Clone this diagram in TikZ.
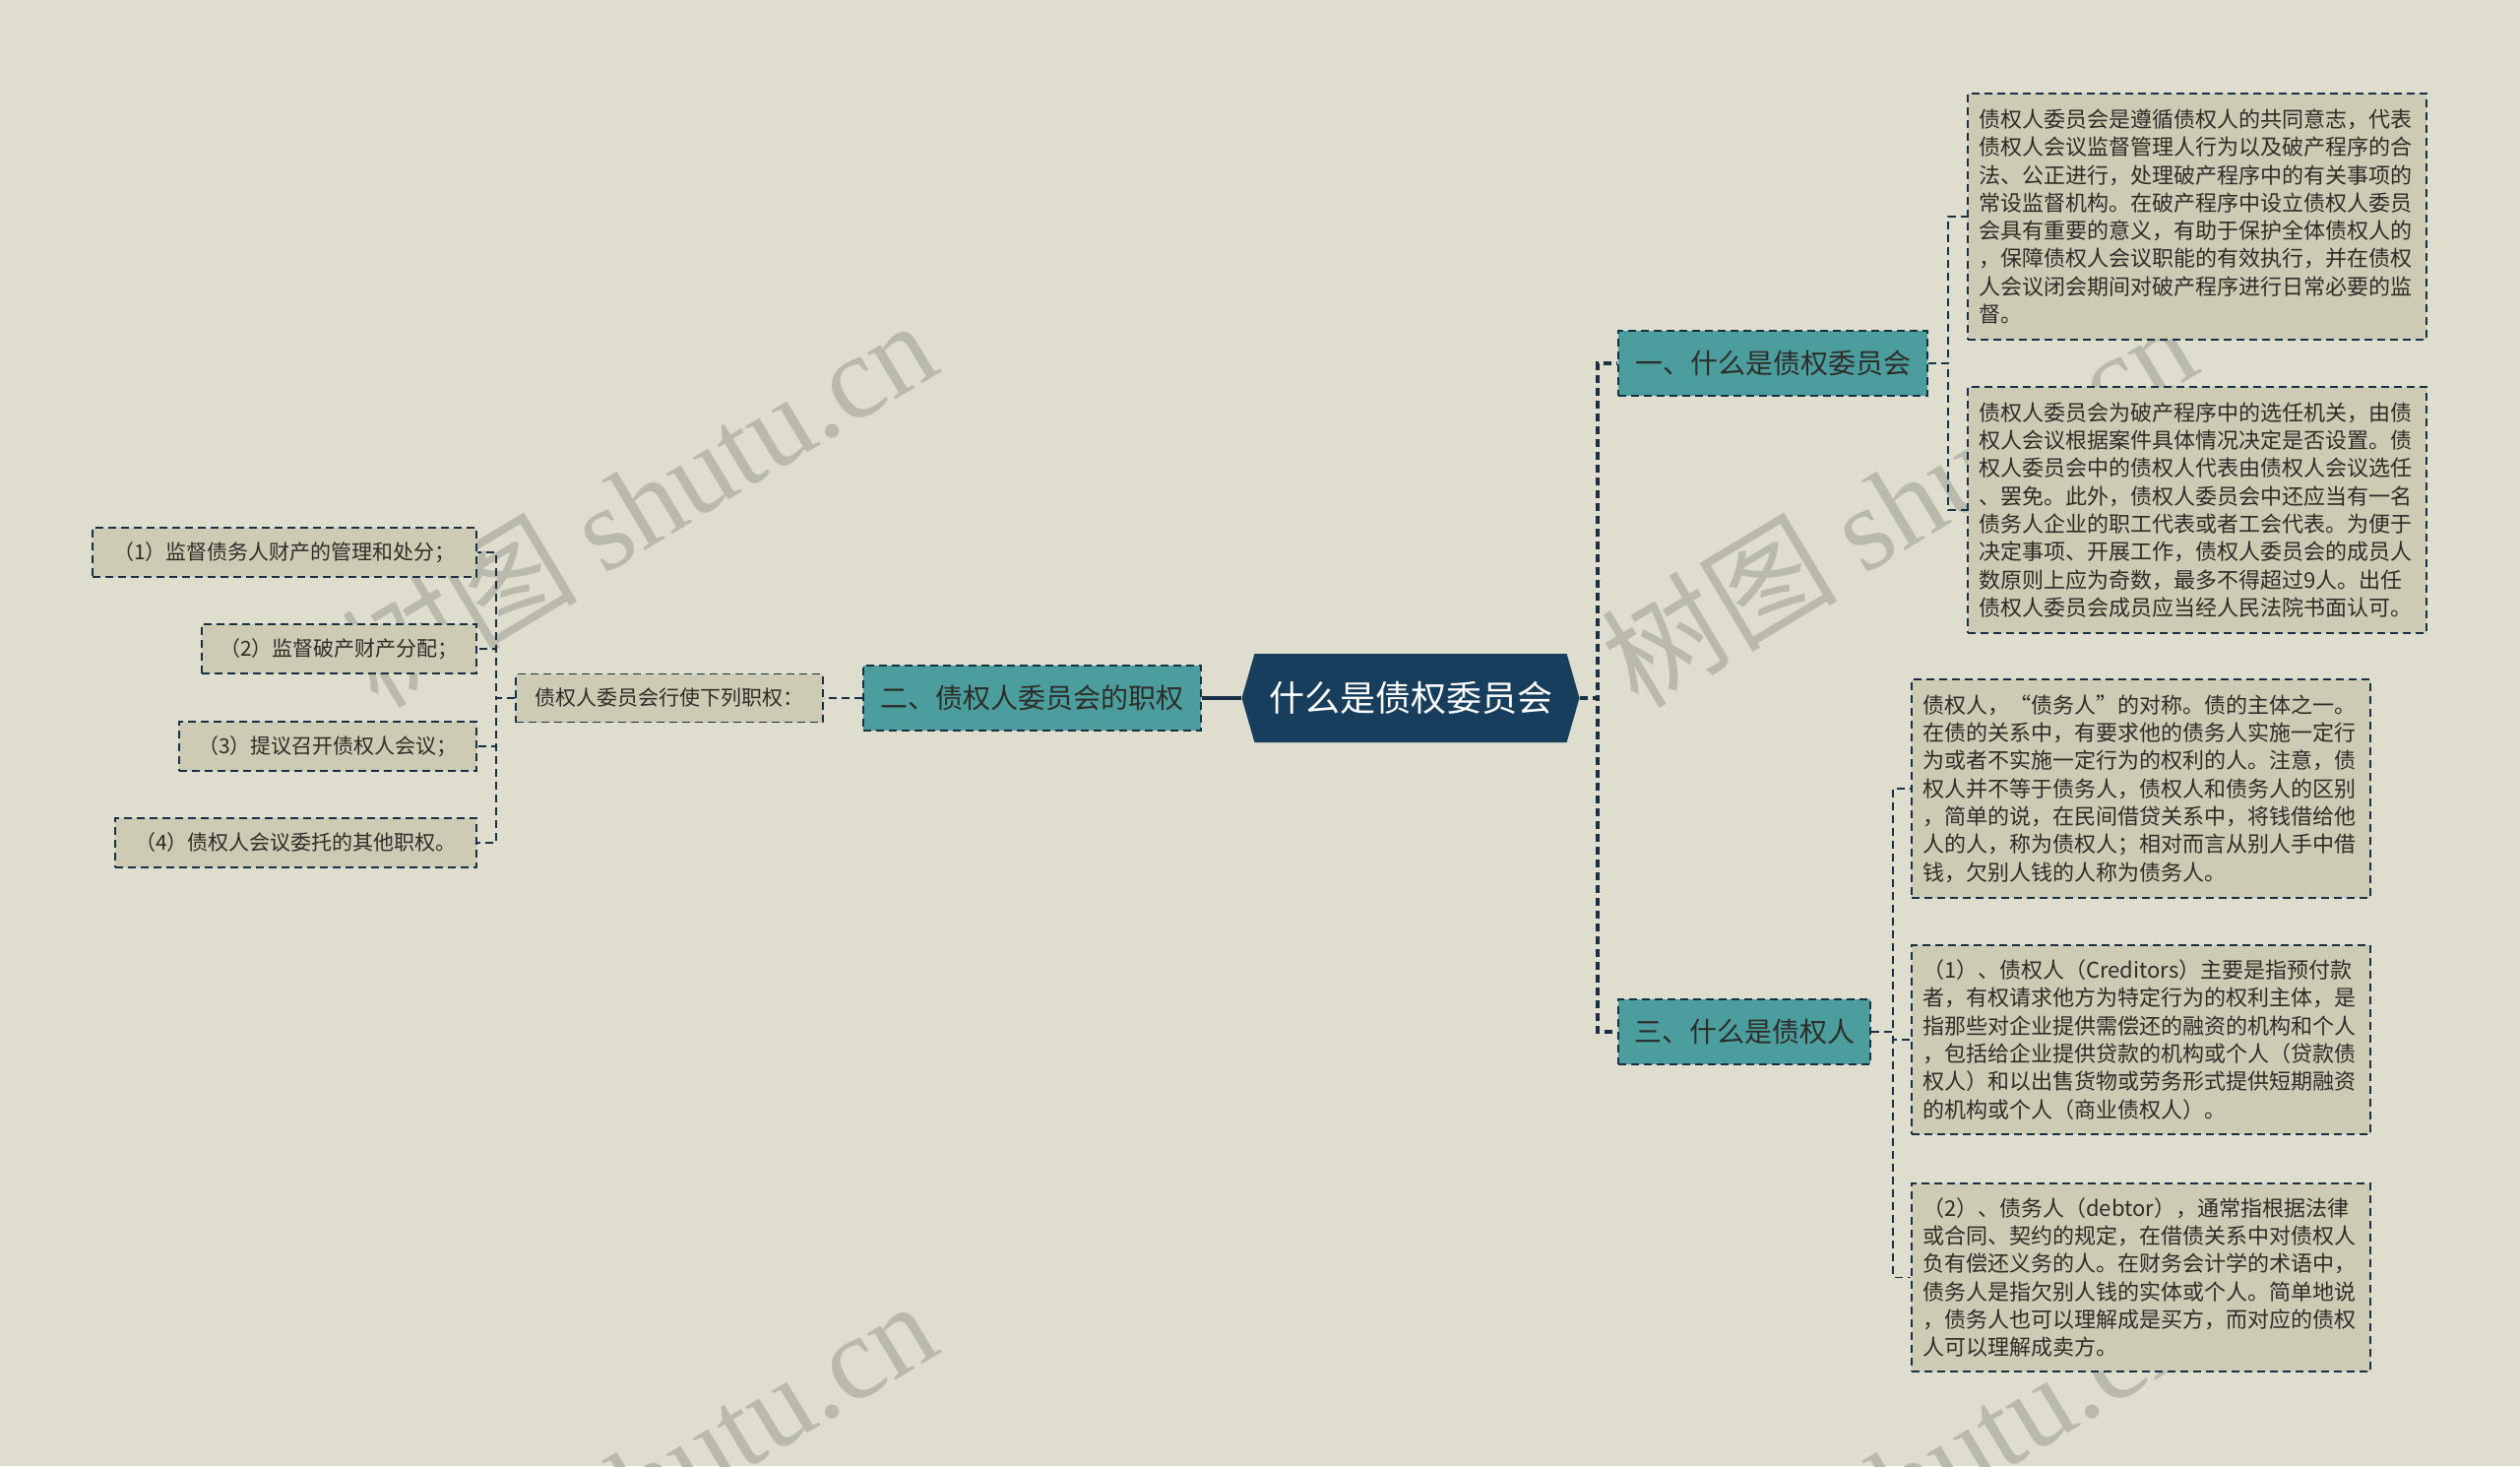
\documentclass[tikz,border=0pt]{standalone}
\usepackage{fontspec}
\setmainfont{Noto Sans CJK SC}
\newfontfamily\wmfont{Liberation Serif}
\usetikzlibrary{positioning,calc,shapes.symbols}
\definecolor{bgcolor}{RGB}{223,221,206}
\definecolor{boxfill}{RGB}{205,203,180}
\definecolor{tealfill}{RGB}{76,157,158}
\definecolor{rootfill}{RGB}{24,62,94}
\definecolor{linecolor}{RGB}{24,48,70}
\definecolor{textcolor}{RGB}{45,45,40}
\definecolor{wmcolor}{RGB}{186,186,172}

\begin{document}
\begin{tikzpicture}[x=0.5pt,y=-0.5pt,
	every node/.style={inner sep=0pt,text=textcolor},
	rootnode/.style={signal,signal to=west and east,signal pointer angle=148,fill=rootfill,text=white,minimum width=171.5pt,minimum height=45pt,font=\fontsize{18pt}{20pt}\selectfont},
	branchnode/.style={draw=linecolor,line width=1.1pt,dash pattern=on 4pt off 2.5pt,fill=tealfill,minimum height=33pt,font=\fontsize{14pt}{16pt}\selectfont},
	leafnode/.style={draw=linecolor,line width=0.9pt,dash pattern=on 4pt off 2.5pt,fill=boxfill,minimum height=25pt,font=\fontsize{10.5pt}{12pt}\selectfont},
	textbox/.style={leafnode,text width=222pt,align=left,inner xsep=5.5pt,font=\fontsize{11pt}{14.15pt}\selectfont},
	trunk/.style={draw=linecolor,line width=1.6pt,dash pattern=on 4pt off 2.5pt},
	twig/.style={draw=linecolor,line width=0.9pt,dash pattern=on 4pt off 2.5pt},
	wmnode/.style={text=wmcolor,rotate=31,font=\fontsize{60pt}{60pt}\selectfont},
	]
	
	% canvas
	\useasboundingbox (0,0) rectangle (2560,1489);
	\fill[bgcolor] (0,0) rectangle (2560,1489);
	\clip (0,0) rectangle (2560,1489);
	
	% watermarks
	\node[wmnode] (wm1) at (648,510) {树图\ {\wmfont shutu.cn}};
	\node[wmnode] (wm2) at (1928,510) {树图\ {\wmfont shutu.cn}};
	\node[wmnode] (wm3) at (648,1506) {树图\ {\wmfont shutu.cn}};
	\node[wmnode] (wm4) at (1928,1506) {树图\ {\wmfont shutu.cn}};
	
	% root
	\node[rootnode] (root) at (1433,709) {什么是债权委员会};
	
	% branches
	\node[branchnode,minimum width=157pt] (b1) at (1801,369) {一、什么是债权委员会};
	\node[branchnode,minimum width=171.5pt] (b2) at (1048.5,709) {二、债权人委员会的职权};
	\node[branchnode,minimum width=128pt] (b3) at (1772,1048) {三、什么是债权人};
	
	% left side
	\node[leafnode,minimum width=156pt,minimum height=24.5pt] (mid) at (680,709) {债权人委员会行使下列职权：};
	\node[leafnode,anchor=east,minimum width=195pt] (l1) at (485,561) {（1）监督债务人财产的管理和处分；};
	\node[leafnode,anchor=east,minimum width=139.5pt] (l2) at (485,659) {（2）监督破产财产分配；};
	\node[leafnode,anchor=east,minimum width=151pt] (l3) at (485,758) {（3）提议召开债权人会议；};
	\node[leafnode,anchor=east,minimum width=183.5pt] (l4) at (485,856) {（4）债权人会议委托的其他职权。};
	
	% right side
	\node[textbox,minimum height=125pt] (t1) at (2232,220) {债权人委员会是遵循债权人的共同意志，代表\\债权人会议监督管理人行为以及破产程序的合\\法、公正进行，处理破产程序中的有关事项的\\常设监督机构。在破产程序中设立债权人委员\\会具有重要的意义，有助于保护全体债权人的\\，保障债权人会议职能的有效执行，并在债权\\人会议闭会期间对破产程序进行日常必要的监\\督。};
	\node[textbox,minimum height=125pt] (t2) at (2232,518) {债权人委员会为破产程序中的选任机关，由债\\权人会议根据案件具体情况决定是否设置。债\\权人委员会中的债权人代表由债权人会议选任\\、罢免。此外，债权人委员会中还应当有一名\\债务人企业的职工代表或者工会代表。为便于\\决定事项、开展工作，债权人委员会的成员人\\数原则上应为奇数，最多不得超过9人。出任\\债权人委员会成员应当经人民法院书面认可。};
	\node[textbox,minimum height=111pt] (t3) at (2175,801) {债权人，“债务人”的对称。债的主体之一。\\在债的关系中，有要求他的债务人实施一定行\\为或者不实施一定行为的权利的人。注意，债\\权人并不等于债务人，债权人和债务人的区别\\，简单的说，在民间借贷关系中，将钱借给他\\人的人，称为债权人；相对而言从别人手中借\\钱，欠别人钱的人称为债务人。};
	\node[textbox,minimum height=96pt] (t4) at (2175,1056) {（1）、债权人（Creditors）主要是指预付款\\者，有权请求他方为特定行为的权利主体，是\\指那些对企业提供需偿还的融资的机构和个人\\，包括给企业提供贷款的机构或个人（贷款债\\权人）和以出售货物或劳务形式提供短期融资\\的机构或个人（商业债权人）。};
	\node[textbox,minimum height=95.5pt] (t5) at (2175,1297.5) {（2）、债务人（debtor），通常指根据法律\\或合同、契约的规定，在借债关系中对债权人\\负有偿还义务的人。在财务会计学的术语中，\\债务人是指欠别人钱的实体或个人。简单地说\\，债务人也可以理解成是买方，而对应的债权\\人可以理解成卖方。};
	
	% root edges
	\draw[draw=linecolor,line width=1.6pt] (root.west) -- (b2.east);
	\draw[trunk] (root.east) -- ++(18,0) |- (b1.west);
	\draw[trunk] (root.east) -- ++(18,0) |- (b3.west);
	
	% left edges
	\draw[twig] (b2.west) -- (mid.east);
	\draw[twig] (mid.west) -- ++(-19,0) |- (l1.east);
	\draw[twig] (mid.west) -- ++(-19,0) |- (l2.east);
	\draw[twig] (mid.west) -- ++(-19,0) |- (l3.east);
	\draw[twig] (mid.west) -- ++(-19,0) |- (l4.east);
	
	% right edges
	\draw[twig] (b1.east) -- ++(20,0) |- (t1.west);
	\draw[twig] (b1.east) -- ++(20,0) |- (t2.west);
	\draw[twig] (b3.east) -- ++(22,0) |- (t3.west);
	\draw[twig] (b3.east) -- ++(22,0) |- (t4.west);
	\draw[twig] (b3.east) -- ++(22,0) |- (t5.west);
	
\end{tikzpicture}
\end{document}
